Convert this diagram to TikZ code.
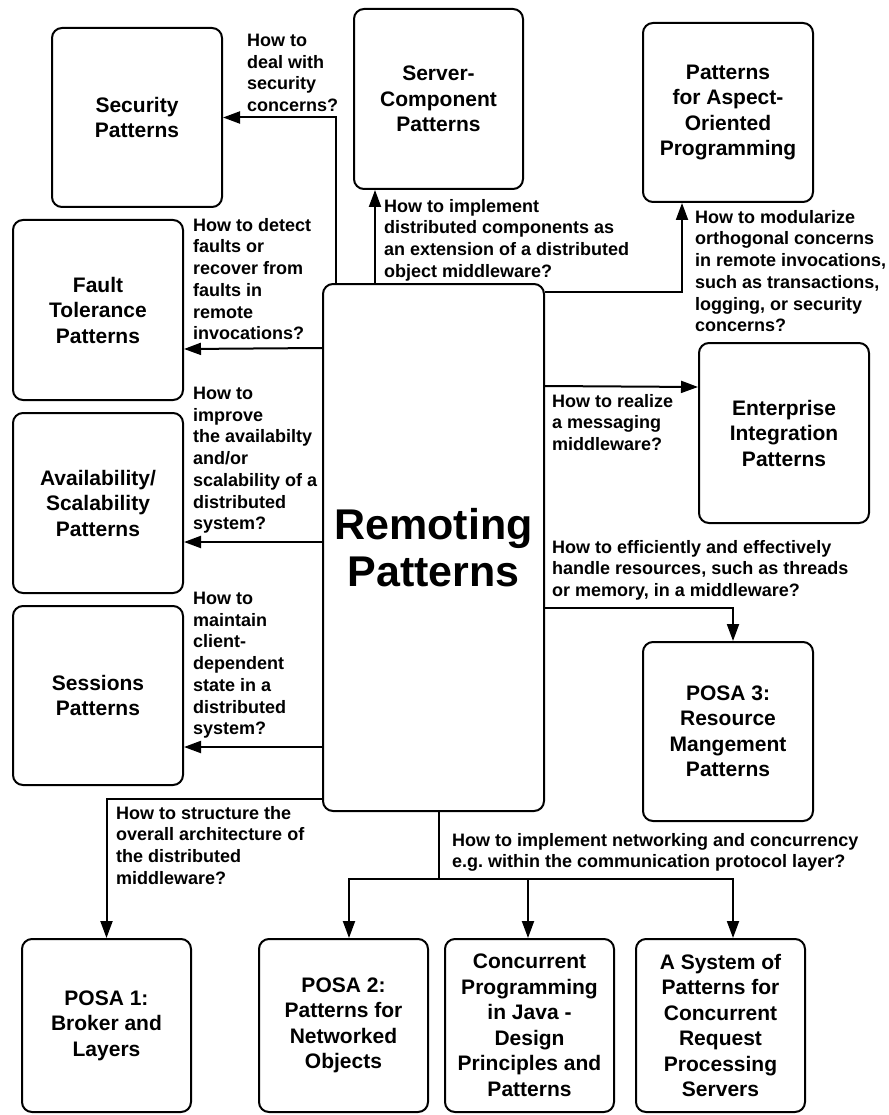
\documentclass[tikz,border=0pt]{standalone}
\usepackage{fontspec}
\setmainfont{Liberation Sans}
\usetikzlibrary{arrows.meta}
\frenchspacing
\begin{document}
\begin{tikzpicture}[x=1pt,y=-1pt,
  box/.style={draw, line width=2pt, rounded corners=10pt, align=center,
    inner sep=0pt, font=\fontsize{21}{25.5}\selectfont\bfseries},
  bigbox/.style={box, font=\fontsize{43}{47}\selectfont\bfseries},
  lbl/.style={align=left, inner sep=0pt, anchor=north west,
    font=\fontsize{18}{21.7}\selectfont\bfseries},
  arr/.style={line width=2pt, -{Triangle[length=17pt,width=12pt]}},
  wire/.style={line width=2pt}]
\useasboundingbox (0,0) rectangle (888,1115);

% pattern collections
\node[box, minimum width=170pt, minimum height=179pt] (sec) at (137,117.5) {Security\\Patterns};
\node[box, minimum width=169pt, minimum height=180pt] (srv) at (438.5,99) {Server-\\Component\\Patterns};
\node[box, minimum width=170pt, minimum height=179pt] (aop) at (728,112.5) {Patterns\\for Aspect-\\Oriented\\Programming};
\node[box, minimum width=170pt, minimum height=180pt] (flt) at (98,310) {Fault\\Tolerance\\Patterns};
\node[box, minimum width=170pt, minimum height=180pt] (avl) at (98,503) {Availability/\\Scalability\\Patterns};
\node[box, minimum width=170pt, minimum height=179pt] (ses) at (98,695.5) {Sessions\\Patterns};
\node[bigbox, minimum width=221pt, minimum height=527pt] (rem) at (433.5,547.5) {Remoting\\Patterns};
\node[box, minimum width=170pt, minimum height=180pt] (ent) at (784,433) {Enterprise\\Integration\\Patterns};
\node[box, minimum width=170pt, minimum height=179pt] (p3) at (728,731.5) {POSA 3:\\Resource\\Mangement\\Patterns};
\node[box, minimum width=169pt, minimum height=173pt] (p1) at (106.5,1025.5) {POSA 1:\\Broker and\\Layers};
\node[box, minimum width=169pt, minimum height=173pt] (p2) at (343.5,1025.5) {POSA 2:\\Patterns for\\Networked\\Objects};
\node[box, minimum width=169pt, minimum height=173pt] (cj) at (529.5,1025.5) {Concurrent\\Programming\\in Java -\\Design\\Principles and\\Patterns};
\node[box, minimum width=169pt, minimum height=173pt] (sys) at (720.5,1025.5) {A System of\\Patterns for\\Concurrent\\Request\\Processing\\Servers};

% connectors
\draw[arr] ([xshift=-97.5pt]rem.north) |- (sec.east);
\draw[arr] ([xshift=-58.5pt]rem.north) -- ([xshift=-63.5pt]srv.south);
\draw[arr] ([yshift=-9pt]rem.north east) -| ([xshift=-46pt]aop.south);
\draw[arr] ([yshift=-65pt]rem.north west) -- ([yshift=-39pt]flt.east);
\draw[arr] ([yshift=5.5pt]rem.west) -- ([yshift=-39pt]avl.east);
\draw[arr] ([yshift=-199.5pt]rem.west) -- ([yshift=-51.5pt]ses.east);
\draw[arr] ([yshift=13pt]rem.south west) -| (p1.north);
\draw[arr] ([yshift=-103pt]rem.north east) -- ([yshift=46pt]ent.west);
\draw[arr] ([yshift=-325pt]rem.north east) -| ([xshift=5pt]p3.north);
\draw[wire] ([xshift=5.5pt]rem.south) -- ++(0,67) coordinate (bus);
\draw[arr] (bus) -| ([xshift=5.5pt]p2.north);
\draw[arr] (bus) -| ([xshift=-1.5pt]cj.north);
\draw[arr] (bus) -| ([xshift=12.5pt]sys.north);

% questions
\node[lbl] (q1) at (247,34) {How to\\deal with\\security\\concerns?};
\node[lbl] (q2) at (384,199) {How to implement\\distributed components as\\an extension of a distributed\\object middleware?};
\node[lbl] (q3) at (695,210) {How to modularize\\orthogonal concerns\\in remote invocations,\\such as transactions,\\logging, or security\\concerns?};
\node[lbl] (q4) at (193,218) {How to detect\\faults or\\recover from\\faults in\\remote\\invocations?};
\node[lbl] (q5) at (193,387) {How to\\improve\\the availabilty\\and/or\\scalability of a\\distributed\\system?};
\node[lbl] (q6) at (193,592) {How to\\maintain\\client-\\dependent\\state in a\\distributed\\system?};
\node[lbl] (q7) at (116,806) {How to structure the\\overall architecture of\\the distributed\\middleware?};
\node[lbl] (q8) at (452,833) {How to implement networking and concurrency\\e.g. within the communication protocol layer?};
\node[lbl] (q9) at (552,394) {How to realize\\a messaging\\middleware?};
\node[lbl] (q10) at (552,540) {How to efficiently and effectively\\handle resources, such as threads\\or memory, in a middleware?};
\end{tikzpicture}
\end{document}
